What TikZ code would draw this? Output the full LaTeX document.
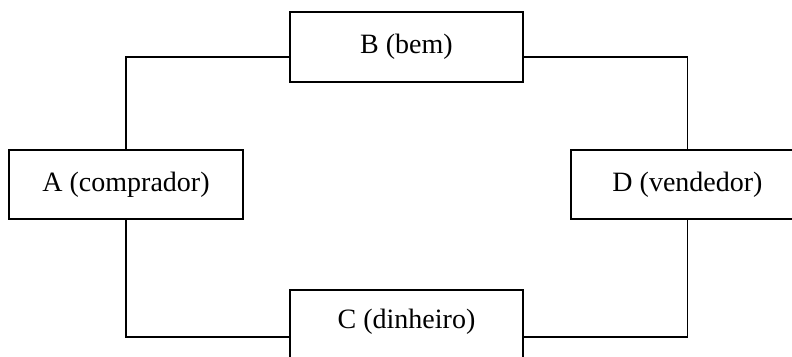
\documentclass[tikz,border=0pt]{standalone}
\usepackage{fontspec}
\setmainfont{Liberation Serif}
\begin{document}
\begin{tikzpicture}[x=1pt,y=1pt,
  box/.style={draw=black,line width=1.6pt,fill=white,rectangle,inner sep=0pt,
    minimum width=233pt,minimum height=70pt,font=\fontsize{28}{34}\selectfont},
  wire/.style={draw=black,line width=1.6pt}]
\useasboundingbox (0,0) rectangle (792,-356);
\node[box] (B) at (406.5,-47) {\raisebox{4pt}{B (bem)}};
\node[box,minimum width=234pt,minimum height=69pt] (A) at (126,-184.5) {\raisebox{4pt}{A (comprador)}};
\node[box,minimum height=69pt] (D) at (687.5,-184.5) {\raisebox{4pt}{D (vendedor)}};
\node[box] (C) at (406.5,-325) {\raisebox{12pt}{C (dinheiro)}};
\draw[wire] (A.north) |- ([yshift=-10pt]B.west);
\draw[wire] ([yshift=-10pt]B.east) -| (D.north);
\draw[wire] (A.south) |- ([yshift=-12pt]C.west);
\draw[wire] ([yshift=-12pt]C.east) -| (D.south);
\end{tikzpicture}
\end{document}
